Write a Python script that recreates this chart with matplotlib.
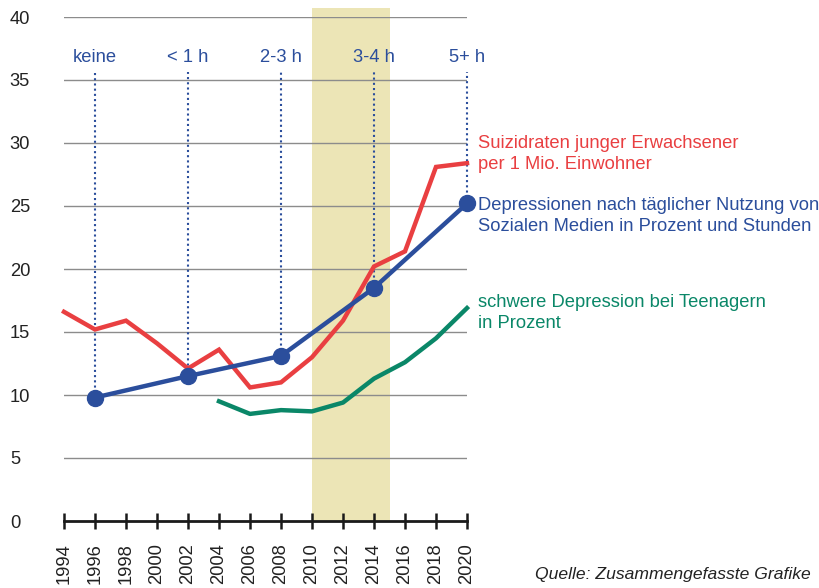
import matplotlib
matplotlib.use("Agg")
import matplotlib.pyplot as plt

plt.rcParams['font.family'] = ['Liberation Sans', 'DejaVu Sans']

years = list(range(1994, 2021, 2))
year_labels = [str(y) for y in years]
y_ticks = [0, 5, 10, 15, 20, 25, 30, 35, 40]

suizid_years = [1994, 1996, 1998, 2000, 2002, 2004, 2006, 2008, 2010, 2012, 2014, 2016, 2018, 2020]
suizid_vals = [16.6, 15.2, 15.9, 14.1, 12.1, 13.6, 10.6, 11.0, 13.0, 15.9, 20.2, 21.4, 28.1, 28.4]

depr_years = [1996, 2002, 2008, 2014, 2020]
depr_vals = [9.8, 11.5, 13.1, 18.5, 25.2]
depr_labels = ["keine", "< 1 h", "2-3 h", "3-4 h", "5+ h"]

teen_years = [2004, 2006, 2008, 2010, 2012, 2014, 2016, 2018, 2020]
teen_vals = [9.5, 8.5, 8.8, 8.7, 9.4, 11.3, 12.6, 14.5, 16.9]

band_start, band_end = 2010, 2015

RED = "#e93f41"
BLUE = "#2b4e9c"
GREEN = "#0a8768"
BAND = "#ece5b6"
GRID = "#8c8c8c"
FS = 13.2

fig = plt.figure(figsize=(8.19, 5.88), dpi=100)
ax = fig.add_axes([64/819, 67/588, 403/819, 504/588])
ax.set_xlim(1994, 2020)
ax.set_ylim(0, 40)

# shaded band
ax.fill_between([band_start, band_end], [0, 0], [40.7, 40.7], color=BAND, lw=0, zorder=0, clip_on=False)

# gridlines
for v in y_ticks[1:]:
    ax.axhline(v, color=GRID, lw=1.0, zorder=1)

# dotted guide lines + labels
for x, v, lab in zip(depr_years, depr_vals, depr_labels):
    ax.plot([x, x], [v, 35.6], color=BLUE, lw=1.5, ls=(0, (1, 1.5)), zorder=2, clip_on=False)
    ax.text(x, 36.8, lab, color=BLUE, fontsize=FS, ha='center', va='center')

ax.plot(suizid_years, suizid_vals, color=RED, lw=3.2, zorder=3, solid_joinstyle='miter', clip_on=False)
ax.plot(teen_years, teen_vals, color=GREEN, lw=3.2, zorder=3, solid_joinstyle='round', clip_on=False)
ax.plot(depr_years, depr_vals, color=BLUE, lw=3.2, marker='o', ms=11.5, zorder=4, clip_on=False)

# series labels
ax.text(2020.7, 29.15, "Suizidraten junger Erwachsener\nper 1 Mio. Einwohner", color=RED,
        fontsize=FS, ha='left', va='center', linespacing=1.3)
ax.text(2020.7, 24.2, "Depressionen nach täglicher Nutzung von\nSozialen Medien in Prozent und Stunden",
        color=BLUE, fontsize=FS, ha='left', va='center', linespacing=1.3)
ax.text(2020.7, 16.5, "schwere Depression bei Teenagern\nin Prozent", color=GREEN,
        fontsize=FS, ha='left', va='center', linespacing=1.3)

for s in ['top', 'right', 'left']:
    ax.spines[s].set_visible(False)
ax.spines['bottom'].set_linewidth(2.0)
ax.spines['bottom'].set_color('#1a1a1a')
ax.spines['bottom'].set_zorder(5)

ax.set_xticks(years)
ax.set_xticklabels(year_labels, rotation=90, fontsize=FS, color='#222222')
ax.tick_params(axis='x', direction='inout', length=12, width=1.8, color='#1a1a1a', pad=10)

ax.set_yticks(y_ticks)
ax.set_yticklabels([str(v) for v in y_ticks], fontsize=FS, color='#222222')
ax.tick_params(axis='y', length=0, pad=39)
for t in ax.get_yticklabels():
    t.set_horizontalalignment('left')

fig.text(535/819, 1 - 575/588, "Quelle: Zusammengefasste Grafike", fontsize=12.6, style='italic',
         color='#222222', ha='left', va='center')

fig.savefig("out.png", dpi=100)
